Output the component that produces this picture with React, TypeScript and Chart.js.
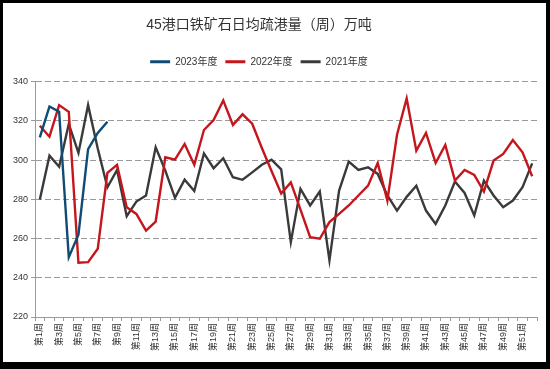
import React, { useEffect, useRef } from 'react';
import { Chart, registerables } from 'chart.js';

Chart.register(...registerables);

const TITLE = '45港口铁矿石日均疏港量（周）万吨';

const weeks = [
  '第1周', '第2周', '第3周', '第4周', '第5周', '第6周', '第7周', '第8周', '第9周', '第10周',
  '第11周', '第12周', '第13周', '第14周', '第15周', '第16周', '第17周', '第18周', '第19周', '第20周',
  '第21周', '第22周', '第23周', '第24周', '第25周', '第26周', '第27周', '第28周', '第29周', '第30周',
  '第31周', '第32周', '第33周', '第34周', '第35周', '第36周', '第37周', '第38周', '第39周', '第40周',
  '第41周', '第42周', '第43周', '第44周', '第45周', '第46周', '第47周', '第48周', '第49周', '第50周',
  '第51周', '第52周',
];

const series2023 = [311.6, 327.4, 324.7, 250.5, 262.0, 305.7, 313.9, 319.6];

const series2022 = [
  317.6, 312.0, 328.1, 324.7, 247.7, 248.0, 254.8, 293.5, 297.6, 276.0,
  272.6, 264.1, 268.7, 301.5, 300.3, 308.3, 297.7, 315.4, 320.5, 330.5,
  318.0, 323.4, 318.6, 306.2, 294.5, 283.0, 288.7, 274.8, 260.7, 259.9,
  268.4, 272.6, 276.9, 282.0, 287.0, 298.6, 279.4, 313.0, 331.5, 304.9,
  313.9, 298.6, 307.8, 289.6, 295.0, 292.5, 284.0, 299.8, 303.2, 310.3,
  304.0, 291.8,
];

const series2021 = [
  279.9, 302.3, 296.7, 318.5, 303.7, 328.1, 306.0, 286.2, 295.0, 271.4,
  278.9, 282.0, 306.6, 294.7, 280.8, 290.1, 284.3, 303.5, 295.9, 301.0,
  291.3, 290.0, 293.8, 297.7, 300.3, 295.3, 258.2, 285.4, 276.9, 284.0,
  248.9, 284.5, 299.3, 295.0, 296.4, 293.0, 282.0, 274.3, 281.3, 287.0,
  274.3, 267.5, 276.9, 289.1, 283.3, 271.8, 289.6, 282.0, 276.0, 279.4,
  286.2, 298.4,
];

const seriesNames = ['2023年度', '2022年度', '2021年度'];
const seriesColors = ['#0f4c75', '#c4161c', '#3a3a3a'];

const yMin = 220;
const yMax = 340;
const yStep = 20;

const FONT = '"Liberation Sans", "Noto Sans CJK SC", sans-serif';
const TEXT_COLOR = '#333333';
const AXIS_COLOR = '#9a9a9a';

const headerShift = {
  id: 'headerShift',
  beforeInit(chart: any) {
    const legend = chart.legend;
    if (legend && !legend.__patched) {
      const origFit = legend.fit;
      legend.fit = function (this: any) {
        origFit.call(this);
        this.height += 5;
      };
      legend.__patched = true;
    }
  },
  afterLayout(chart: any) {
    const dx = -11;
    const blocks = [chart.titleBlock, chart.legend];
    for (const b of blocks) {
      if (b) {
        b.left += dx;
        b.right += dx;
      }
    }
  },
};

export default function App() {
  const canvasRef = useRef<HTMLCanvasElement | null>(null);

  useEffect(() => {
    document.body.style.margin = '0';
    const canvas = canvasRef.current;
    if (!canvas) return;
    const allSeries = [series2023, series2022, series2021];
    const chart = new Chart(canvas, {
      type: 'line',
      data: {
        labels: weeks,
        datasets: allSeries.map((data, i) => ({
          label: seriesNames[i],
          data,
          borderColor: seriesColors[i],
          backgroundColor: seriesColors[i],
          borderWidth: 2.4,
          pointRadius: 0,
          tension: 0,
          fill: false,
        })),
      },
      options: {
        animation: false,
        responsive: false,
        maintainAspectRatio: false,
        layout: { padding: { left: 0, right: 9, top: 0, bottom: 0 } },
        plugins: {
          title: {
            display: true,
            text: TITLE,
            color: TEXT_COLOR,
            font: { size: 14, family: FONT, weight: 'normal' },
            padding: { top: 14, bottom: 15 },
          },
          legend: {
            display: true,
            position: 'top',
            labels: {
              boxWidth: 20,
              boxHeight: 3,
              padding: 8,
              color: TEXT_COLOR,
              font: { size: 10, family: FONT },
              generateLabels: (c: any) =>
                Chart.defaults.plugins.legend.labels
                  .generateLabels(c)
                  .map((l: any) => ({ ...l, lineWidth: 0 })),
            },
          },
          tooltip: { enabled: false },
        },
        scales: {
          x: {
            offset: true,
            grid: {
              offset: true,
              drawOnChartArea: false,
              drawTicks: true,
              tickLength: 4,
              color: AXIS_COLOR,
            },
            border: { color: AXIS_COLOR, width: 1 },
            ticks: {
              autoSkip: false,
              maxRotation: 90,
              minRotation: 90,
              padding: 2,
              color: TEXT_COLOR,
              font: { size: 9, family: FONT },
              callback: (_v: any, i: number) => (i % 2 === 0 ? weeks[i] : ''),
            },
            afterFit: (s: any) => {
              s.height = 45;
            },
          },
          y: {
            min: yMin,
            max: yMax,
            ticks: {
              stepSize: yStep,
              padding: 3,
              color: TEXT_COLOR,
              font: { size: 9, family: FONT },
            },
            grid: {
              color: AXIS_COLOR,
              tickLength: 4,
              tickBorderDash: [],
            },
            border: { color: AXIS_COLOR, width: 1, dash: [6, 3] },
            afterFit: (s: any) => {
              s.width = 32;
            },
          },
        },
      } as any,
      plugins: [headerShift],
    });
    return () => chart.destroy();
  }, []);

  return (
    <div style={{ position: 'relative', width: 550, height: 369, background: '#000', overflow: 'hidden' }}>
      <div style={{ position: 'absolute', left: 3, top: 3, width: 543, height: 359, background: '#fff' }}>
        <canvas ref={canvasRef} width={543} height={359} style={{ display: 'block' }} />
      </div>
    </div>
  );
}
